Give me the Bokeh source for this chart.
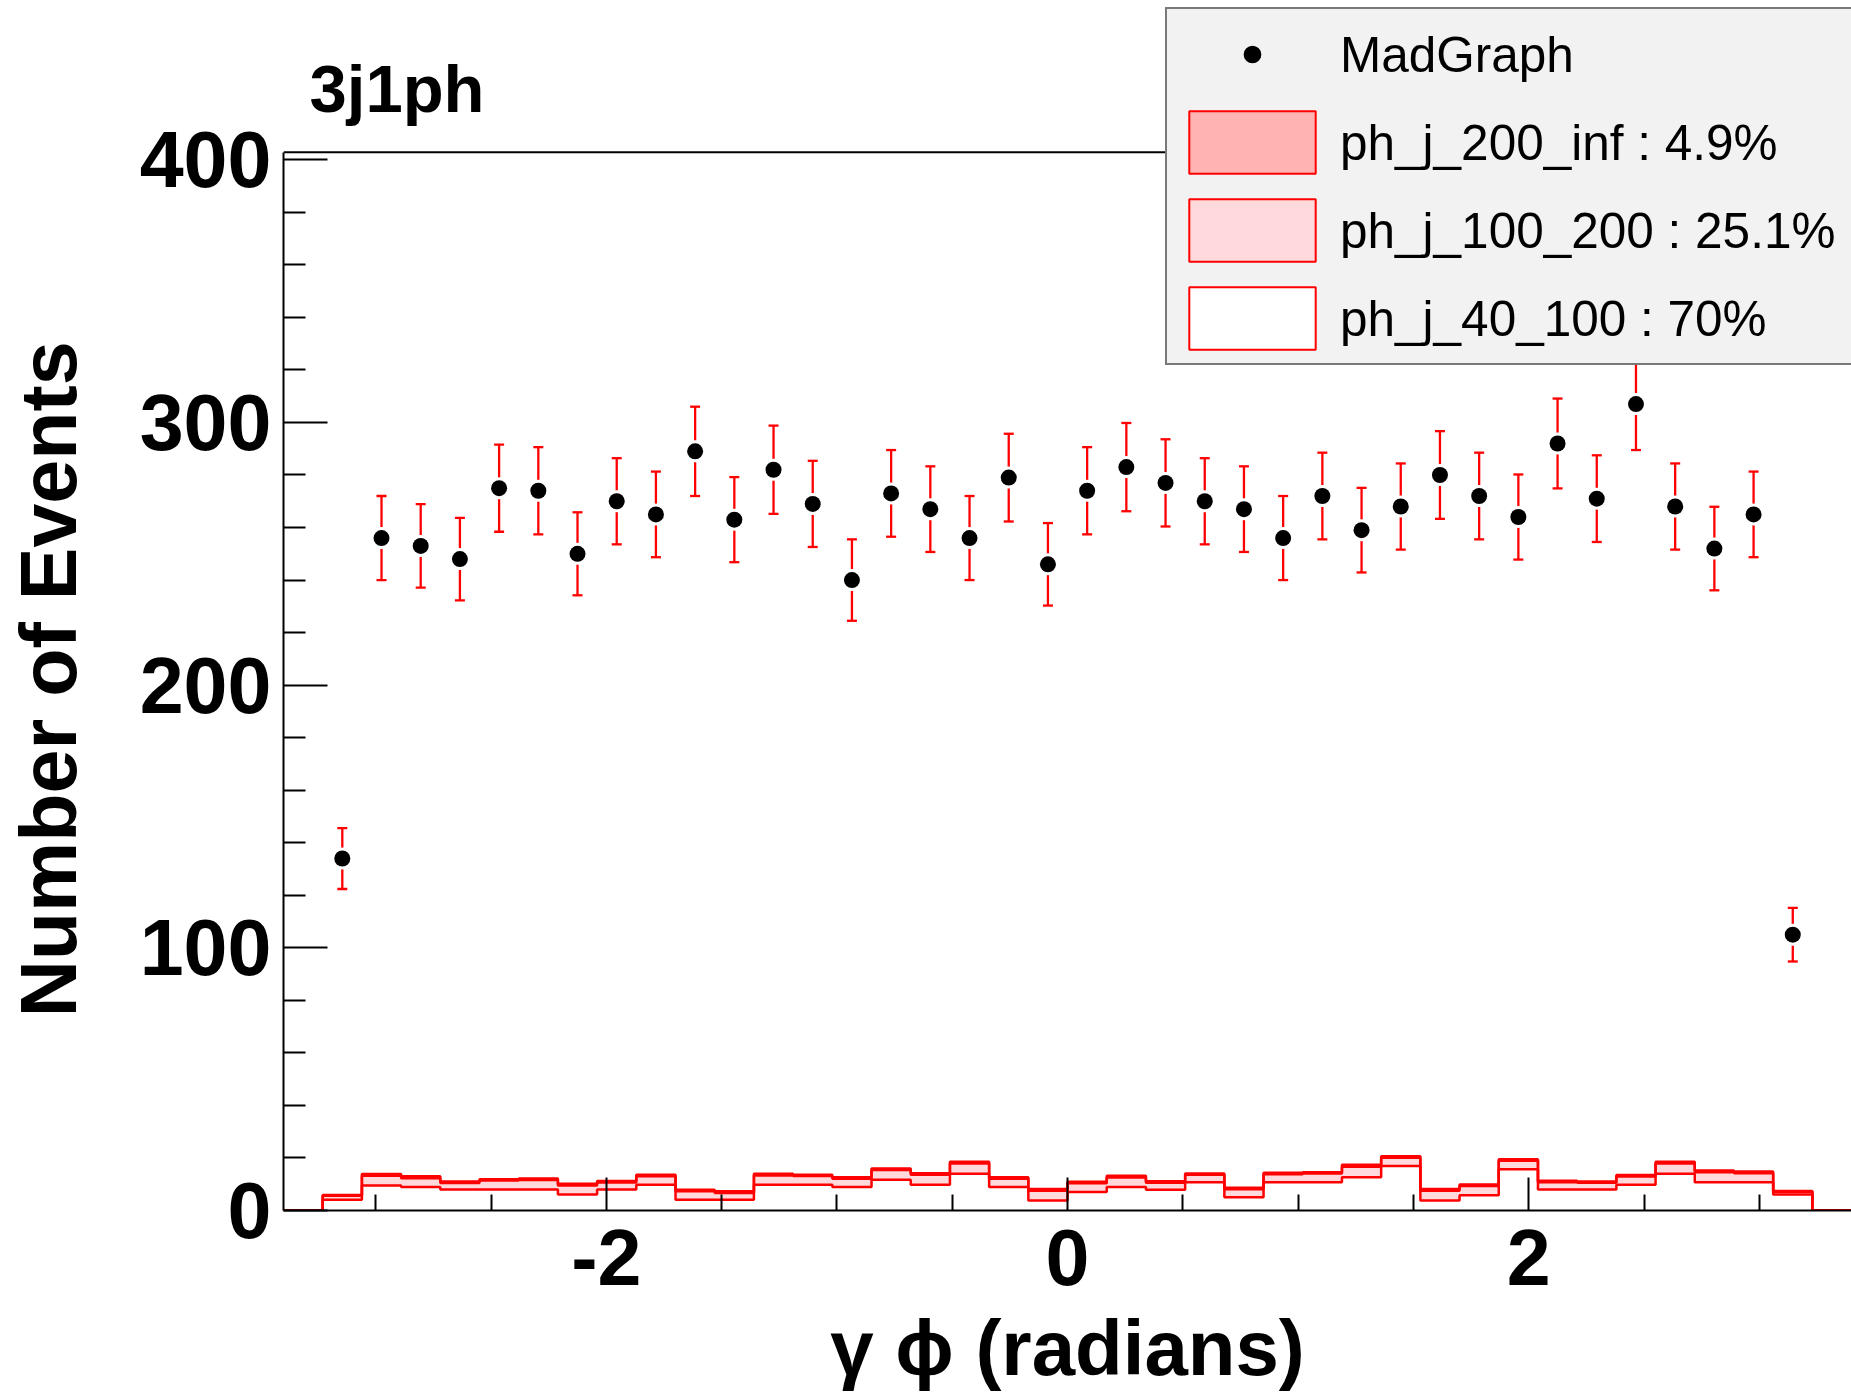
import numpy as np
from bokeh.plotting import figure
from bokeh.models import (Range1d, FixedTicker, Label, Legend, LegendItem, Span,
                          ColumnDataSource, Whisker, TeeHead)
from bokeh.embed import file_html
from bokeh.resources import INLINE

# ---------------- data ----------------
N_BINS = 40
PHI_MIN, PHI_MAX = -3.4, 3.4
Y_MAX = 402.9

# MadGraph events (bins 2..39)
madgraph = [134, 256, 253, 248, 275, 274, 250, 270, 265, 289, 263, 282, 269, 240,
            273, 267, 256, 279, 246, 274, 283, 277, 270, 267, 256, 272, 259, 268,
            280, 272, 264, 292, 271, 307, 268, 252, 265, 105]
madgraph_err = [11.6, 16.0, 15.9, 15.7, 16.6, 16.6, 15.8, 16.4, 16.3, 17.0, 16.2, 16.8,
                16.4, 15.5, 16.5, 16.3, 16.0, 16.7, 15.7, 16.6, 16.8, 16.6, 16.4, 16.3,
                16.0, 16.5, 16.1, 16.4, 16.7, 16.5, 16.2, 17.1, 16.5, 17.5, 16.4, 15.9,
                16.3, 10.2]

# stacked MC components (all 40 bins)
ph_j_40_100 = [0, 4.1, 9.5, 8.9, 8.0, 8.0, 8.0, 6.1, 8.0, 9.8, 4.1, 4.1, 9.8, 9.8,
               8.9, 11.7, 9.8, 14.0, 8.9, 3.8, 7.0, 8.9, 7.9, 10.8, 5.0, 10.8, 10.8,
               12.7, 16.9, 3.8, 5.8, 15.7, 8.0, 8.0, 9.8, 14.0, 10.8, 10.8, 6.1, 0]
ph_j_100_200 = [0, 1.5, 3.7, 3.4, 2.5, 3.4, 3.6, 3.4, 2.7, 3.2, 3.2, 2.6, 3.5, 3.3,
                3.2, 3.7, 3.8, 3.9, 3.2, 3.7, 3.4, 3.7, 2.7, 2.8, 3.1, 3.0, 3.3,
                4.0, 3.2, 3.7, 3.5, 3.2, 2.8, 2.6, 3.1, 3.9, 3.8, 3.4, 1.0, 0]
ph_j_200_inf = [0, 0.3, 0.7, 0.7, 0.5, 0.5, 0.6, 0.7, 0.5, 0.6, 0.6, 0.6, 0.7, 0.5,
                0.6, 0.6, 0.6, 0.7, 0.6, 0.7, 0.5, 0.6, 0.5, 0.5, 0.6, 0.6, 0.5,
                0.7, 0.6, 0.7, 0.6, 0.6, 0.5, 0.4, 0.6, 0.7, 0.6, 0.6, 0.3, 0]

legend_labels = ["MadGraph", "ph_j_200_inf : 4.9%", "ph_j_100_200 : 25.1%", "ph_j_40_100 : 70%"]
title_text = "3j1ph"
x_title_text = "\u03b3 \u03d5 (radians)"
y_title_text = "Number of Events"
x_ticks = [-2, 0, 2]
x_tick_labels = {-2: "-2", 0: "0", 2: "2"}
x_minor_ticks = [-3, -2.5, -1.5, -1, -0.5, 0.5, 1, 1.5, 2.5, 3]
y_ticks = [0, 100, 200, 300, 400]
y_minor_ticks = [v for v in range(20, 400, 20) if v % 100]

# ---------------- geometry / style ----------------
W, H = 1851, 1394
FL, FR, FT, FB = 283, 0, 0, 184
PXX = 230.6     # px per radian
PXY = 2.6268    # px per event
x_end = PHI_MIN + (W - FL - FR) / PXX
y_end = (H - FT - FB) / PXY

def px2x(px):
    return PHI_MIN + (px - FL) / PXX

def py2y(py):
    return (H - FB - py) / PXY

FONT = "Liberation Sans"
RED = "#ff0000"
LEG_BG = "#f2f2f2"
COL_C, COL_B, COL_A = "#ffb3b3", "#ffd9db", "#ffffff"

edges = np.linspace(PHI_MIN, PHI_MAX, N_BINS + 1)
centers = 0.5 * (edges[:-1] + edges[1:])

a = np.array(ph_j_40_100)
ab = a + np.array(ph_j_100_200)
abc = ab + np.array(ph_j_200_inf)

p = figure(width=W, height=H, x_range=Range1d(PHI_MIN, x_end), y_range=Range1d(0, y_end),
           output_backend="svg", toolbar_location=None,
           min_border_left=FL, min_border_right=FR, min_border_top=FT, min_border_bottom=FB)
p.background_fill_color = "white"
p.border_fill_color = "white"
p.outline_line_color = None
p.xgrid.visible = False
p.ygrid.visible = False

# ---------------- stacked histogram ----------------
for cum, col in [(abc, COL_C), (ab, COL_B), (a, COL_A)]:
    yy = list(cum) + [cum[-1]]
    p.varea_step(x=list(edges), y1=[0] * len(edges), y2=yy, step_mode="after",
                 fill_color=col, fill_alpha=1.0)
for cum in [abc, ab, a]:
    yy = list(cum) + [cum[-1]]
    p.step(x=list(edges), y=yy, mode="after", line_color=RED, line_width=2.5)

# legend proxies (same layers as quads, hidden; only used for legend boxes)
zeros = np.zeros(N_BINS)
r_c = p.quad(left=edges[:-1], right=edges[1:], bottom=ab, top=abc,
             fill_color=COL_C, line_color=RED, line_width=2, visible=False)
r_b = p.quad(left=edges[:-1], right=edges[1:], bottom=a, top=ab,
             fill_color=COL_B, line_color=RED, line_width=2, visible=False)
r_a = p.quad(left=edges[:-1], right=edges[1:], bottom=zeros, top=a,
             fill_color=COL_A, line_color=RED, line_width=2, visible=False)

# ---------------- data points ----------------
mx = centers[1:1 + len(madgraph)]
my = np.array(madgraph, dtype=float)
me = np.array(madgraph_err)
src = ColumnDataSource(dict(x=mx, y=my, upper=my + me, lower=my - me))
wh = Whisker(source=src, base="x", upper="upper", lower="lower",
             line_color=RED, line_width=2.3,
             upper_head=TeeHead(size=10, line_color=RED, line_width=2.3),
             lower_head=TeeHead(size=10, line_color=RED, line_width=2.3))
p.add_layout(wh)
p.scatter("x", "y", source=src, size=22, fill_color="white", line_color=None)
p.scatter("x", "y", source=src, size=16, fill_color="black", line_color=None)
# hidden twin used only for the legend: the background-coloured rim
# shrinks the legend's (fixed-size) marker to the small dot of the original
r_mg_leg = p.scatter("x", "y", source=src, size=16, fill_color="black",
                     line_color=LEG_BG, line_width=13.5, visible=False)

# top edge of the histogram frame
p.add_layout(Span(location=Y_MAX, dimension="width", line_color="black", line_width=2))

# ---------------- axes ----------------
xa = p.xaxis[0]
xa.ticker = FixedTicker(ticks=x_ticks, minor_ticks=x_minor_ticks)
xa.major_label_overrides = x_tick_labels
xa.major_tick_in = 33
xa.major_tick_out = 0
xa.minor_tick_in = 16
xa.minor_tick_out = 0
ya = p.yaxis[0]
ya.ticker = FixedTicker(ticks=y_ticks, minor_ticks=y_minor_ticks)
ya.bounds = (0, Y_MAX)
ya.major_tick_in = 44
ya.major_tick_out = 0
ya.minor_tick_in = 22
ya.minor_tick_out = 0
for ax in (xa, ya):
    ax.axis_line_color = "black"
    ax.axis_line_width = 2
    ax.major_tick_line_color = "black"
    ax.minor_tick_line_color = "black"
    ax.major_tick_line_width = 2
    ax.minor_tick_line_width = 2
    ax.major_label_text_font = FONT
    ax.major_label_text_font_size = "79px"
    ax.major_label_text_font_style = "bold"
    ax.major_label_text_color = "black"
    ax.axis_label_text_font = FONT
    ax.axis_label_text_font_style = "bold"
    ax.axis_label_text_color = "black"
xa.major_label_standoff = 19
ya.major_label_standoff = 12
xa.axis_label = x_title_text
xa.axis_label_text_font_size = "78px"
xa.axis_label_standoff = 16
# trailing no-break spaces move the centred title down to the centre of the 0..400 axis
ya.axis_label = y_title_text + "\u00a0" * 6 + "\u2009"
ya.axis_label_text_font_size = "79px"
ya.axis_label_standoff = 44

# ---------------- title ----------------
p.add_layout(Label(x=px2x(309), y=py2y(88), text=title_text, text_font=FONT,
                   text_font_size="67px", text_font_style="bold", text_color="black",
                   text_align="left", text_baseline="alphabetic"))

# ---------------- legend ----------------
# Bokeh draws area legend glyphs at 80% of the glyph cell, hence the larger cell sizes
legend = Legend(items=[LegendItem(label=legend_labels[0], renderers=[r_mg_leg]),
                       LegendItem(label=legend_labels[1], renderers=[r_c]),
                       LegendItem(label=legend_labels[2], renderers=[r_b]),
                       LegendItem(label=legend_labels[3], renderers=[r_a])],
                location=(1165 - FL, H - FB - 365),
                glyph_width=158, glyph_height=78, label_standoff=9, label_width=540,
                padding=6, spacing=10, margin=0,
                label_text_font=FONT, label_text_font_size="49.5px", label_text_color="black",
                background_fill_color=LEG_BG, background_fill_alpha=1.0,
                border_line_color="black", border_line_width=2)
p.add_layout(legend)

open("out.html", "w").write(file_html(p, INLINE))
